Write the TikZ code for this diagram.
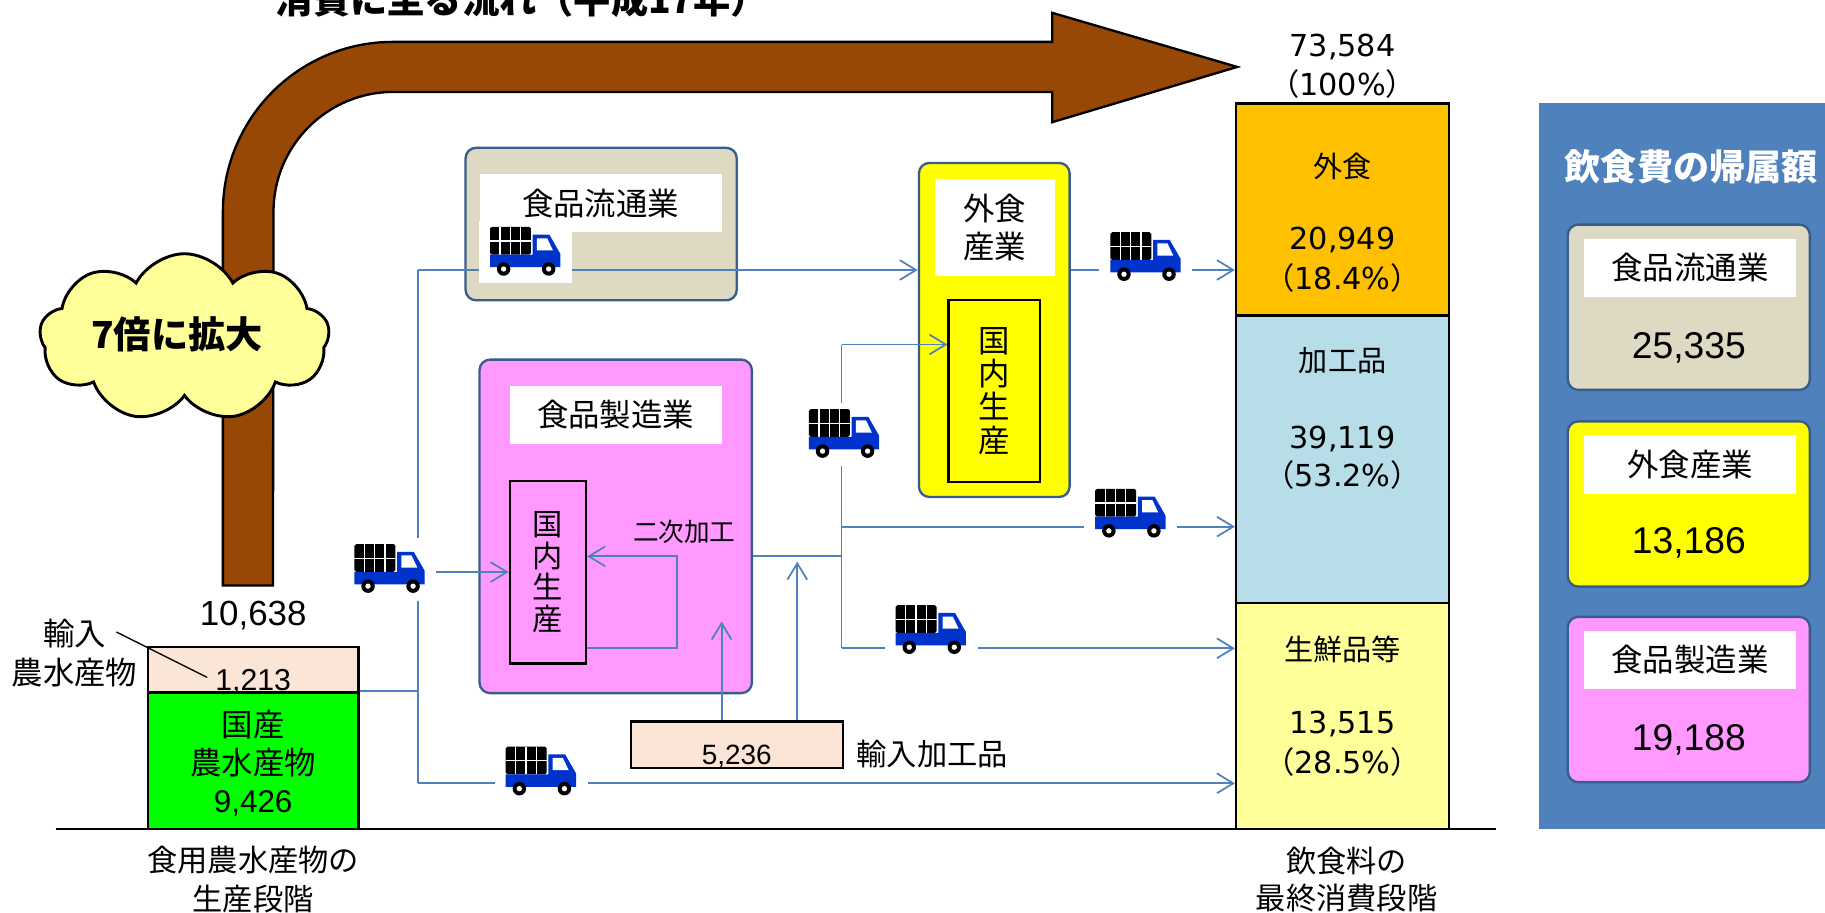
\documentclass[tikz,border=0pt]{standalone}
\usepackage{fontspec}
\setmainfont{Liberation Sans}
\newfontfamily\jp{Noto Sans CJK JP}
\newfontfamily\latin{Liberation Sans}
\newfontfamily\wide{DejaVu Sans}
\usetikzlibrary{arrows.meta,shapes.symbols}

\definecolor{flowblue}{HTML}{4F81BD}
\definecolor{edgeblue}{HTML}{385D8A}
\definecolor{panelblue}{HTML}{4F81BD}
\definecolor{brownarrow}{HTML}{974706}
\definecolor{cloudfill}{HTML}{FFFF99}
\definecolor{distfill}{HTML}{DDD9C3}
\definecolor{mfgfill}{HTML}{FF99FF}
\definecolor{restfill}{HTML}{FFFF00}
\definecolor{eatout}{HTML}{FFC000}
\definecolor{procfill}{HTML}{B7DEE8}
\definecolor{freshfill}{HTML}{FFFF99}
\definecolor{importfill}{HTML}{FBE5D6}
\definecolor{domfill}{HTML}{00FF00}
\definecolor{truckblue}{HTML}{0033CC}

\newcommand{\fsz}[1]{\fontsize{#1}{#1}\selectfont}
\newcommand{\pct}[1]{{\jp （}#1{\jp ）}}

\tikzset{
  box/.style={draw=edgeblue, line width=2pt, rounded corners=9pt, inner sep=0pt},
  lbl/.style={fill=white, inner sep=0pt, font=\jp\fsz{27}},
  bar/.style={draw=black, line width=2pt, inner sep=0pt},
  vtext/.style={draw=black, line width=2pt, inner sep=0pt, align=center},
  flow/.style={draw=flowblue, line width=1.5pt},
  arr/.style={flow, -{Straight Barb[length=14pt,width=17pt]}},
  truck/.pic={
    % white clearance that interrupts the flow lines
    \fill[white] (-40,-26) rectangle (40,28);
    % load
    \fill[black, rounded corners=1.5pt] (-30.5,-20.5) rectangle (4.7,3.3);
    \draw[white, line width=1.1pt] (-21.9,-20.5) -- (-21.9,3.3)
      (-13,-20.5) -- (-13,3.3) (-4.2,-20.5) -- (-4.2,3.3) (-30.5,-8.4) -- (4.7,-8.4);
    % cab and chassis
    \fill[truckblue] (-30.5,3.3) -- (6.2,3.3) -- (6.2,-13.9) -- (20.5,-13.9)
      -- (29.9,2.5) -- (29.9,14) -- (-30.5,14) -- cycle;
    \fill[white] (9.8,-10.8) -- (18.6,-10.8) -- (23.6,-0.3) -- (9.8,-0.3) -- cycle;
    % wheels
    \foreach \wx in {-18.8,19.9}{
      \fill[black] (\wx,15.6) circle (5.8);
      \fill[white] (\wx,15.6) circle (2.3);
    }
  }
}

\begin{document}
\begin{tikzpicture}[x=1pt,y=-1pt]
\useasboundingbox (0,0) rectangle (1568,784);

% title line
\node[anchor=base, font=\jp\bfseries\fsz{32}] (title) at (448.5,12) {消費に至る流れ（平成17年）};

% large bent arrow
\filldraw[fill=brownarrow, draw=black, line width=2pt]
  (191.5,503) -- (191.5,182) arc[start angle=180, end angle=270, radius=146]
  -- (904,36) -- (904,11) -- (1063,57.5) -- (904,105) -- (904,79)
  -- (338,79) arc[start angle=270, end angle=180, radius=103]
  -- (234.5,503) -- cycle;

% cloud
\node[cloud, cloud puffs=9, cloud puff arc=125, aspect=1.75, minimum width=249pt,
      minimum height=144pt, fill=cloudfill, draw=black, line width=2.5pt,
      inner sep=0pt] (cloud) at (158.5,290) {};
\node[font=\jp\bfseries\fsz{32}] (cloudtext) at (152,287) {7倍に拡大};

% ground line
\coordinate (gl) at (48,712);
\coordinate (gr) at (1285,712);
\draw[line width=2pt] (gl) -- (gr);

% production stage
\node[bar, fill=importfill, minimum width=181pt, minimum height=39pt] (imp) at (217.5,575.5) {};
\node[bar, fill=domfill, minimum width=181pt, minimum height=117pt] (dom) at (217.5,653.5) {};
\node[font=\fsz{30}] (total) at (217.5,529) {10,638};
\node[anchor=base, font=\fsz{26}] (impval) at (217.5,593) {1,213};
\node[font=\jp\fontsize{27}{33}\selectfont, align=center] (imptxt) at (64,561) {輸入\\農水産物};
\coordinate (leadA) at (100,543);
\coordinate (leadB) at (178,582);
\draw[line width=1.2pt] (leadA) -- (leadB);
\node[font=\jp\fontsize{27}{32.5}\selectfont, align=center] (domtxt) at (217.5,656) {国産\\農水産物\\{\latin 9,426}};
\node[font=\jp\fontsize{26}{33.5}\selectfont, align=center] (prodstage) at (217.5,756) {食用農水産物の\\生産段階};

% final consumption bar
\node[bar, fill=eatout, minimum width=183pt, minimum height=182pt] (eo) at (1153.5,180) {};
\node[bar, fill=procfill, minimum width=183pt, minimum height=247pt] (pr) at (1153.5,394.5) {};
\node[bar, fill=freshfill, minimum width=183pt, minimum height=194pt] (fr) at (1153.5,615) {};
\node[font=\wide\fsz{26}] (sum) at (1153.5,40) {73,584};
\node[font=\wide\fsz{26}] (sumpct) at (1153.5,72) {\pct{100\%}};
\node[font=\jp\fsz{25}] (eotxt) at (1153.5,143) {外食};
\node[font=\wide\fontsize{26}{34}\selectfont, align=center] (eoval) at (1153.5,223) {20,949\\\pct{18.4\%}};
\node[font=\jp\fsz{25}] (prtxt) at (1153.5,310) {加工品};
\node[font=\wide\fontsize{26}{33}\selectfont, align=center] (prval) at (1153.5,393.5) {39,119\\\pct{53.2\%}};
\node[font=\jp\fsz{25}] (frtxt) at (1153.5,558) {生鮮品等};
\node[font=\wide\fontsize{26}{34}\selectfont, align=center] (frval) at (1153.5,639) {13,515\\\pct{28.5\%}};
\node[font=\jp\fontsize{26}{32}\selectfont, align=center] (consstage) at (1157,756) {飲食料の\\最終消費段階};

% distribution
\node[box, fill=distfill, minimum width=233pt, minimum height=131pt] (dist) at (516.5,192.5) {};
\node[lbl, minimum width=208pt, minimum height=50pt] (distlbl) at (516,174.5) {食品流通業};

% food service
\node[box, fill=restfill, minimum width=129.5pt, minimum height=287pt] (rest) at (854.25,283.5) {};
\node[lbl, minimum width=103pt, minimum height=83pt, align=center,
      font=\jp\fontsize{27}{32}\selectfont] (restlbl) at (854.5,195.5) {外食\\産業};
\node[vtext, minimum width=78.5pt, minimum height=156pt,
      font=\jp\fontsize{27}{28.5}\selectfont] (restdom) at (854.25,336) {国\\内\\生\\産};

% manufacturing
\node[box, fill=mfgfill, minimum width=234pt, minimum height=286.5pt] (mfg) at (529,452.25) {};
\node[lbl, minimum width=182pt, minimum height=50pt] (mfglbl) at (529,356.5) {食品製造業};
\node[vtext, minimum width=65.5pt, minimum height=157pt,
      font=\jp\fontsize{26}{27.2}\selectfont] (mfgdom) at (470.75,491.5) {国\\内\\生\\産};
\node[font=\jp\fsz{22}] (second) at (588,457) {二次加工};

% imported processed goods
\node[bar, fill=importfill, minimum width=182pt, minimum height=40pt] (impproc) at (633,640) {};
\node[anchor=base, font=\fsz{24}] (impprocval) at (633,657) {5,236};
\node[font=\jp\fsz{26}] (impproclbl) at (801,648) {輸入加工品};

% flow lines
\coordinate (trunkTop) at (359,232);
\coordinate (trunkBot) at (359,673);
\coordinate (mid) at (723,478);
\coordinate (mTop) at (723,296);
\coordinate (mProc) at (723,452.5);
\coordinate (mBot) at (723,557);
\coordinate (fbX) at (581.7,0);

\draw[flow] (dom.north east) -- (dom.north east -| trunkTop);
\draw[flow] (trunkTop) -- (trunkBot);
\draw[arr] (trunkTop) -- (trunkTop -| rest.west);
\draw[arr] (trunkTop |- mfgdom.west) -- (mfgdom.west);
\draw[arr] (trunkBot) -- (trunkBot -| fr.west);

\draw[flow] (mid -| mfg.east) -- (mid);
\draw[flow] (mTop) -- (mBot);
\draw[arr] (mTop) -- (mTop -| restdom.west);
\draw[arr] (mProc) -- (mProc -| pr.west);
\draw[arr] (mBot) -- (mBot -| fr.west);
\draw[arr] (rest.east |- trunkTop) -- (trunkTop -| eo.west);

\draw[arr] (mfgdom.east |- mBot) -- (fbX |- mBot) -- (fbX |- mid) -- (mfgdom.east |- mid);

\draw[arr] ([xshift=-13pt]impproc.north) -- ++(0,-85);
\draw[arr] ([xshift=52pt]impproc.north) -- ([xshift=52pt]impproc.north |- 0,482.6);

% trucks
\pic (t1) at (451.5,215.5) {truck};
\pic (t2) at (984.5,220) {truck};
\pic (t3) at (335,488) {truck};
\pic (t4) at (725.5,372) {truck};
\pic (t5) at (971.5,440.5) {truck};
\pic (t6) at (800,540.5) {truck};
\pic (t7) at (465,662) {truck};

% attribution panel
\node[fill=panelblue, inner sep=0pt, minimum width=253pt, minimum height=623.4pt] (panel) at (1448.5,400.3) {};
\node[font=\jp\bfseries\fsz{31}, text=white] (paneltitle) at (1453,143) {飲食費の帰属額};

\node[box, fill=distfill, minimum width=208pt, minimum height=142pt] (pdist) at (1451,264) {};
\node[lbl, minimum width=182pt, minimum height=50pt] (pdistlbl) at (1452,230) {食品流通業};
\node[font=\fsz{32}] (pdistval) at (1451,299) {25,335};

\node[box, fill=restfill, minimum width=208pt, minimum height=142pt] (prest) at (1451,433) {};
\node[lbl, minimum width=182pt, minimum height=50pt] (prestlbl) at (1452,399) {外食産業};
\node[font=\fsz{32}] (prestval) at (1451,466) {13,186};

\node[box, fill=mfgfill, minimum width=208pt, minimum height=142pt] (pmfg) at (1451,601) {};
\node[lbl, minimum width=182pt, minimum height=50pt] (pmfglbl) at (1452,567) {食品製造業};
\node[font=\fsz{32}] (pmfgval) at (1451,636) {19,188};
\end{tikzpicture}
\end{document}
